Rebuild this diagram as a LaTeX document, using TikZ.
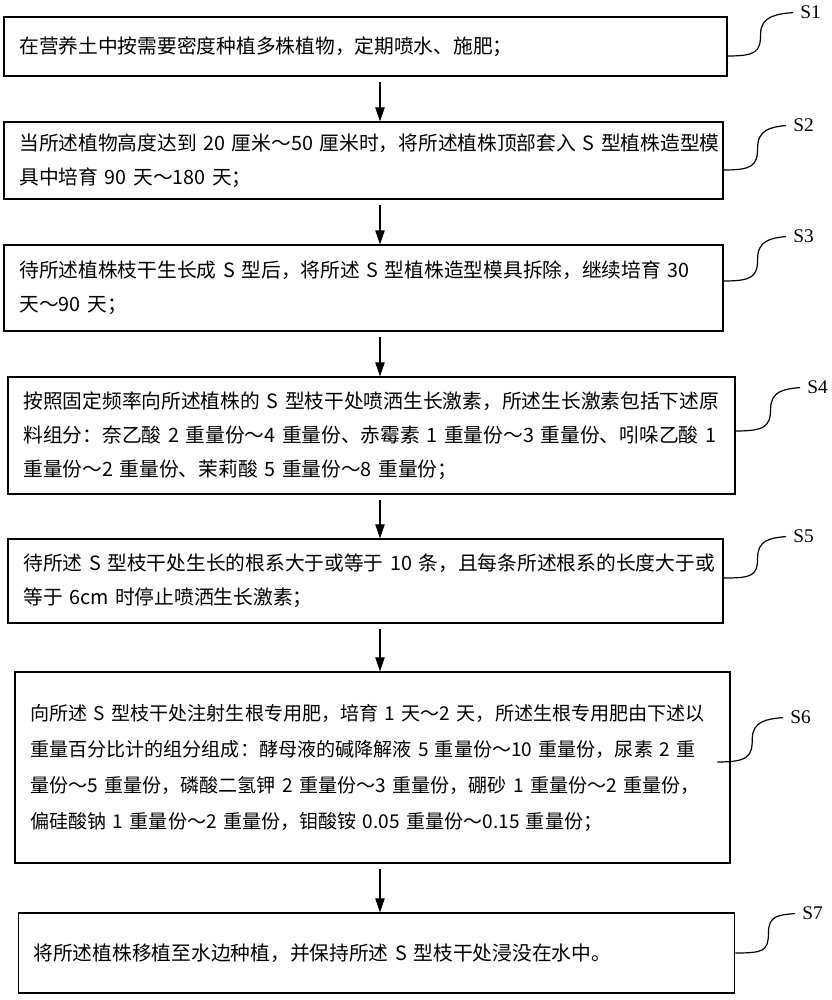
\documentclass[tikz,border=0pt]{standalone}
\usepackage{fontspec}
\setmainfont{Liberation Serif}
\newfontfamily\cjk{Noto Sans CJK SC}
\usetikzlibrary{arrows.meta}
\hfuzz=40pt

\tikzset{
  stepbox/.style={draw, line width=0.9pt, inner xsep=11.5pt, inner ysep=0pt, align=left,
    font=\cjk\fontsize{14.8pt}{25.5pt}\selectfont},
  steplabel/.style={anchor=west, inner sep=0.75pt, font=\fontsize{14.5pt}{16pt}\selectfont},
  flow/.style={line width=0.8pt, -{Triangle[length=10.5pt,width=7pt]}, shorten <=4pt},
  lead/.style={line width=0.9pt, shorten >=4.5pt}
}

\begin{document}
\begin{tikzpicture}[x=0.75pt,y=0.75pt,yscale=-1,xscale=1]
\useasboundingbox (0,0) rectangle (832,1000);

% Step boxes
\node[stepbox, text width=519.25pt, minimum height=44.25pt] (s1) at (365.5,46.5)
  {在营养土中按需要密度种植多株植物，定期喷水、施肥；};
\node[stepbox, text width=516.25pt, minimum height=57.75pt] (s2) at (363.5,160.5)
  {当所述植物高度达到~20~厘米～50~厘米时，将所述植株顶部套入~S~型植株造型模\\
   具中培育~90~天～180~天；};
\node[stepbox, text width=516.25pt, minimum height=64.5pt] (s3) at (363.5,288)
  {待所述植株枝干生长成~S~型后，将所述~S~型植株造型模具拆除，继续培育~30\\
   天～90~天；};
\node[stepbox, text width=522.25pt, minimum height=87.75pt] (s4) at (371.5,435.5)
  {按照固定频率向所述植株的~S~型枝干处喷洒生长激素，所述生长激素包括下述原\\
   料组分：奈乙酸~2~重量份～4~重量份、赤霉素~1~重量份～3~重量份、吲哚乙酸~1\\
   重量份～2~重量份、茉莉酸~5~重量份～8~重量份；};
\node[stepbox, text width=513.25pt, minimum height=63pt] (s5) at (365.5,581)
  {待所述~S~型枝干处生长的根系大于或等于~10~条，且每条所述根系的长度大于或\\
   等于~6cm~时停止喷洒生长激素；};
\node[stepbox, text width=513.25pt, minimum height=143.25pt,
  font=\cjk\fontsize{14.3pt}{27pt}\selectfont] (s6) at (372.5,767.5)
  {向所述~S~型枝干处注射生根专用肥，培育~1~天～2~天，所述生根专用肥由下述以\\
   重量百分比计的组分组成：酵母液的碱降解液~5~重量份～10~重量份，尿素~2~重\\
   量份～5~重量份，磷酸二氢钾~2~重量份～3~重量份，硼砂~1~重量份～2~重量份，\\
   偏硅酸钠~1~重量份～2~重量份，钼酸铵~0.05~重量份～0.15~重量份；};
\node[stepbox, text width=514.5pt, minimum height=60pt] (s7) at (376.5,953)
  {将所述植株移植至水边种植，并保持所述~S~型枝干处浸没在水中。};

% Step labels
\node[steplabel] (l1) at (799,12) {S1};
\node[steplabel] (l2) at (792,125) {S2};
\node[steplabel] (l3) at (792,236) {S3};
\node[steplabel] (l4) at (806,387) {S4};
\node[steplabel] (l5) at (792,536) {S5};
\node[steplabel] (l6) at (789,717) {S6};
\node[steplabel] (l7) at (801,913) {S7};

% Arrows
\coordinate (ax) at (380,0);
\draw[flow] (s1.south -| ax) -- (s2.north -| ax);
\draw[flow] (s2.south -| ax) -- (s3.north -| ax);
\draw[flow] (s3.south -| ax) -- (s4.north -| ax);
\draw[flow] (s4.south -| ax) -- (s5.north -| ax);
\draw[flow] (s5.south -| ax) -- (s6.north -| ax);
\draw[flow] (s6.south -| ax) -- (s7.north -| ax);

% Leaders from boxes to labels
\draw[lead] (s1.east |- 0,56) .. controls +(28,0) and +(0,18) .. ++(33,-22) .. controls +(0,-18) and +(-22,2) .. (l1.west);
\draw[lead] (s2.east |- 0,170) .. controls +(28,0) and +(0,18) .. ++(34,-22) .. controls +(0,-18) and +(-22,2) .. (l2.west);
\draw[lead] (s3.east |- 0,281) .. controls +(28,0) and +(0,18) .. ++(34,-22) .. controls +(0,-18) and +(-22,2) .. (l3.west);
\draw[lead] (s4.east |- 0,431) .. controls +(28,0) and +(0,18) .. ++(35,-22) .. controls +(0,-18) and +(-22,2) .. (l4.west);
\draw[lead] (s5.east |- 0,578) .. controls +(28,0) and +(0,18) .. ++(34,-20) .. controls +(0,-18) and +(-22,2) .. (l5.west);
\draw[lead] ([xshift=-10pt]s6.east |- 0,762) .. controls +(30,0) and +(0,18) .. ++(35,-23) .. controls +(0,-18) and +(-22,2) .. (l6.west);
\draw[lead] (s7.east |- 0,953) .. controls +(28,0) and +(0,18) .. ++(33,-20) .. controls +(0,-18) and +(-22,2) .. (l7.west);

\end{tikzpicture}
\end{document}
